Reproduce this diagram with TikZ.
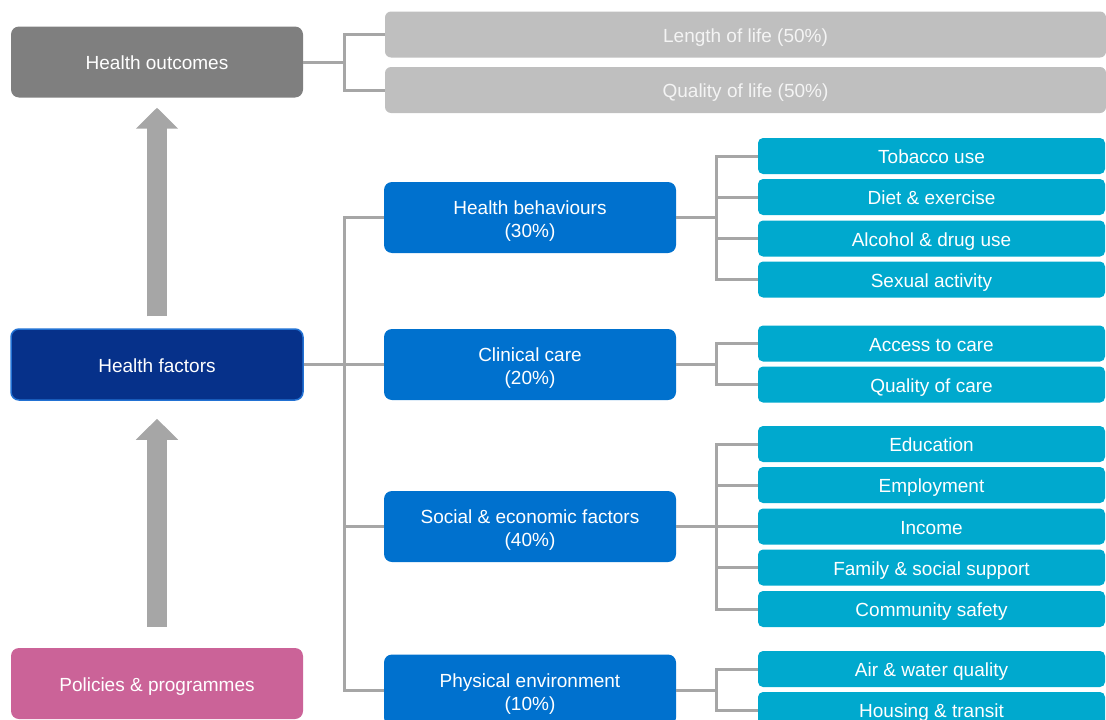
\documentclass[tikz,border=0pt]{standalone}
\usepackage{fontspec}
\setmainfont{Liberation Sans}
\usetikzlibrary{calc,arrows.meta}

\definecolor{outgrey}{HTML}{7F7F7F}
\definecolor{lifegrey}{HTML}{BFBFBF}
\definecolor{lifetext}{HTML}{F4F4F4}
\definecolor{navy}{HTML}{06318A}
\definecolor{navyedge}{HTML}{2271D3}
\definecolor{pink}{HTML}{CB6398}
\definecolor{midblue}{HTML}{0071CE}
\definecolor{cyanbox}{HTML}{00A9CE}
\definecolor{linkgrey}{HTML}{A6A6A6}

\tikzset{
  box/.style={rounded corners=8pt, inner sep=0pt, text=white, align=center,
    font=\fontsize{19}{23}\selectfont, minimum width=292pt, minimum height=71pt,
    text height=15.2pt, text depth=0pt},
  lifebox/.style={box, fill=lifegrey, text=lifetext, minimum width=721pt, minimum height=46pt, rounded corners=6pt},
  midbox/.style={box, fill=midblue, text height=40.4pt, text depth=0pt},
  leafbox/.style={box, fill=cyanbox, minimum width=347pt, minimum height=36pt, rounded corners=5pt},
  link/.style={draw=linkgrey, line width=3pt},
  bigarrow/.style={draw=linkgrey, line width=20pt,
    -{Triangle[width=41pt,length=21pt,fill=linkgrey]}},
}

\begin{document}
\begin{tikzpicture}[x=1pt,y=-1pt]
\useasboundingbox (0,0) rectangle (1106,720);
\clip (0,0) rectangle (1106,720);

% left column
\node[box, fill=outgrey] (ho) at (157,62) {Health outcomes};
\node[box, fill=navy, draw=navyedge, line width=1.5pt] (hf) at (157,364.5) {Health factors};
\node[box, fill=pink] (pp) at (157,683.5) {Policies \& programmes};

% outcomes
\node[lifebox] (len) at (745.5,34.5) {Length of life (50\%)};
\node[lifebox] (qol) at (745.5,90) {Quality of life (50\%)};

% factor groups
\node[midbox] (hb) at (530,217.5) {Health behaviours\\(30\%)};
\node[midbox] (cc) at (530,364.5) {Clinical care\\(20\%)};
\node[midbox] (se) at (530,526.5) {Social \& economic factors\\(40\%)};
\node[midbox] (pe) at (530,690) {Physical environment\\(10\%)};

% individual factors
\node[leafbox] (l1) at (931.5,156) {Tobacco use};
\node[leafbox] (l2) at (931.5,197) {Diet \& exercise};
\node[leafbox] (l3) at (931.5,238.5) {Alcohol \& drug use};
\node[leafbox] (l4) at (931.5,279.5) {Sexual activity};
\node[leafbox] (l5) at (931.5,343.5) {Access to care};
\node[leafbox] (l6) at (931.5,384.5) {Quality of care};
\node[leafbox] (l7) at (931.5,444) {Education};
\node[leafbox] (l8) at (931.5,485) {Employment};
\node[leafbox] (l9) at (931.5,526.5) {Income};
\node[leafbox] (l10) at (931.5,567.5) {Family \& social support};
\node[leafbox] (l11) at (931.5,609) {Community safety};
\node[leafbox] (l12) at (931.5,669) {Air \& water quality};
\node[leafbox] (l13) at (931.5,710) {Housing \& transit};

% tree connectors
\coordinate (j0) at ($(ho.east)+(41,0)$);
\draw[link] (ho.east) -- (j0);
\draw[link] (j0) |- (len.west);
\draw[link] (j0) |- (qol.west);

\coordinate (j1) at ($(hf.east)+(41,0)$);
\draw[link] (hf.east) -- (j1);
\foreach \c in {hb,cc,se,pe} \draw[link] (j1) |- (\c.west);

\coordinate (jb) at ($(hb.east)+(40,0)$);
\draw[link] (hb.east) -- (jb);
\foreach \c in {l1,l2,l3,l4} \draw[link] (jb) |- (\c.west);

\coordinate (jc) at ($(cc.east)+(40,0)$);
\draw[link] (cc.east) -- (jc);
\foreach \c in {l5,l6} \draw[link] (jc) |- (\c.west);

\coordinate (js) at ($(se.east)+(40,0)$);
\draw[link] (se.east) -- (js);
\foreach \c in {l7,l8,l9,l10,l11} \draw[link] (js) |- (\c.west);

\coordinate (jp) at ($(pe.east)+(40,0)$);
\draw[link] (pe.east) -- (jp);
\foreach \c in {l12,l13} \draw[link] (jp) |- (\c.west);

% upward arrows
\draw[bigarrow] ($(hf.north)+(0,-12)$) -- ($(ho.south)+(0,10)$);
\draw[bigarrow] ($(pp.north)+(0,-21)$) -- ($(hf.south)+(0,18)$);
\end{tikzpicture}
\end{document}
